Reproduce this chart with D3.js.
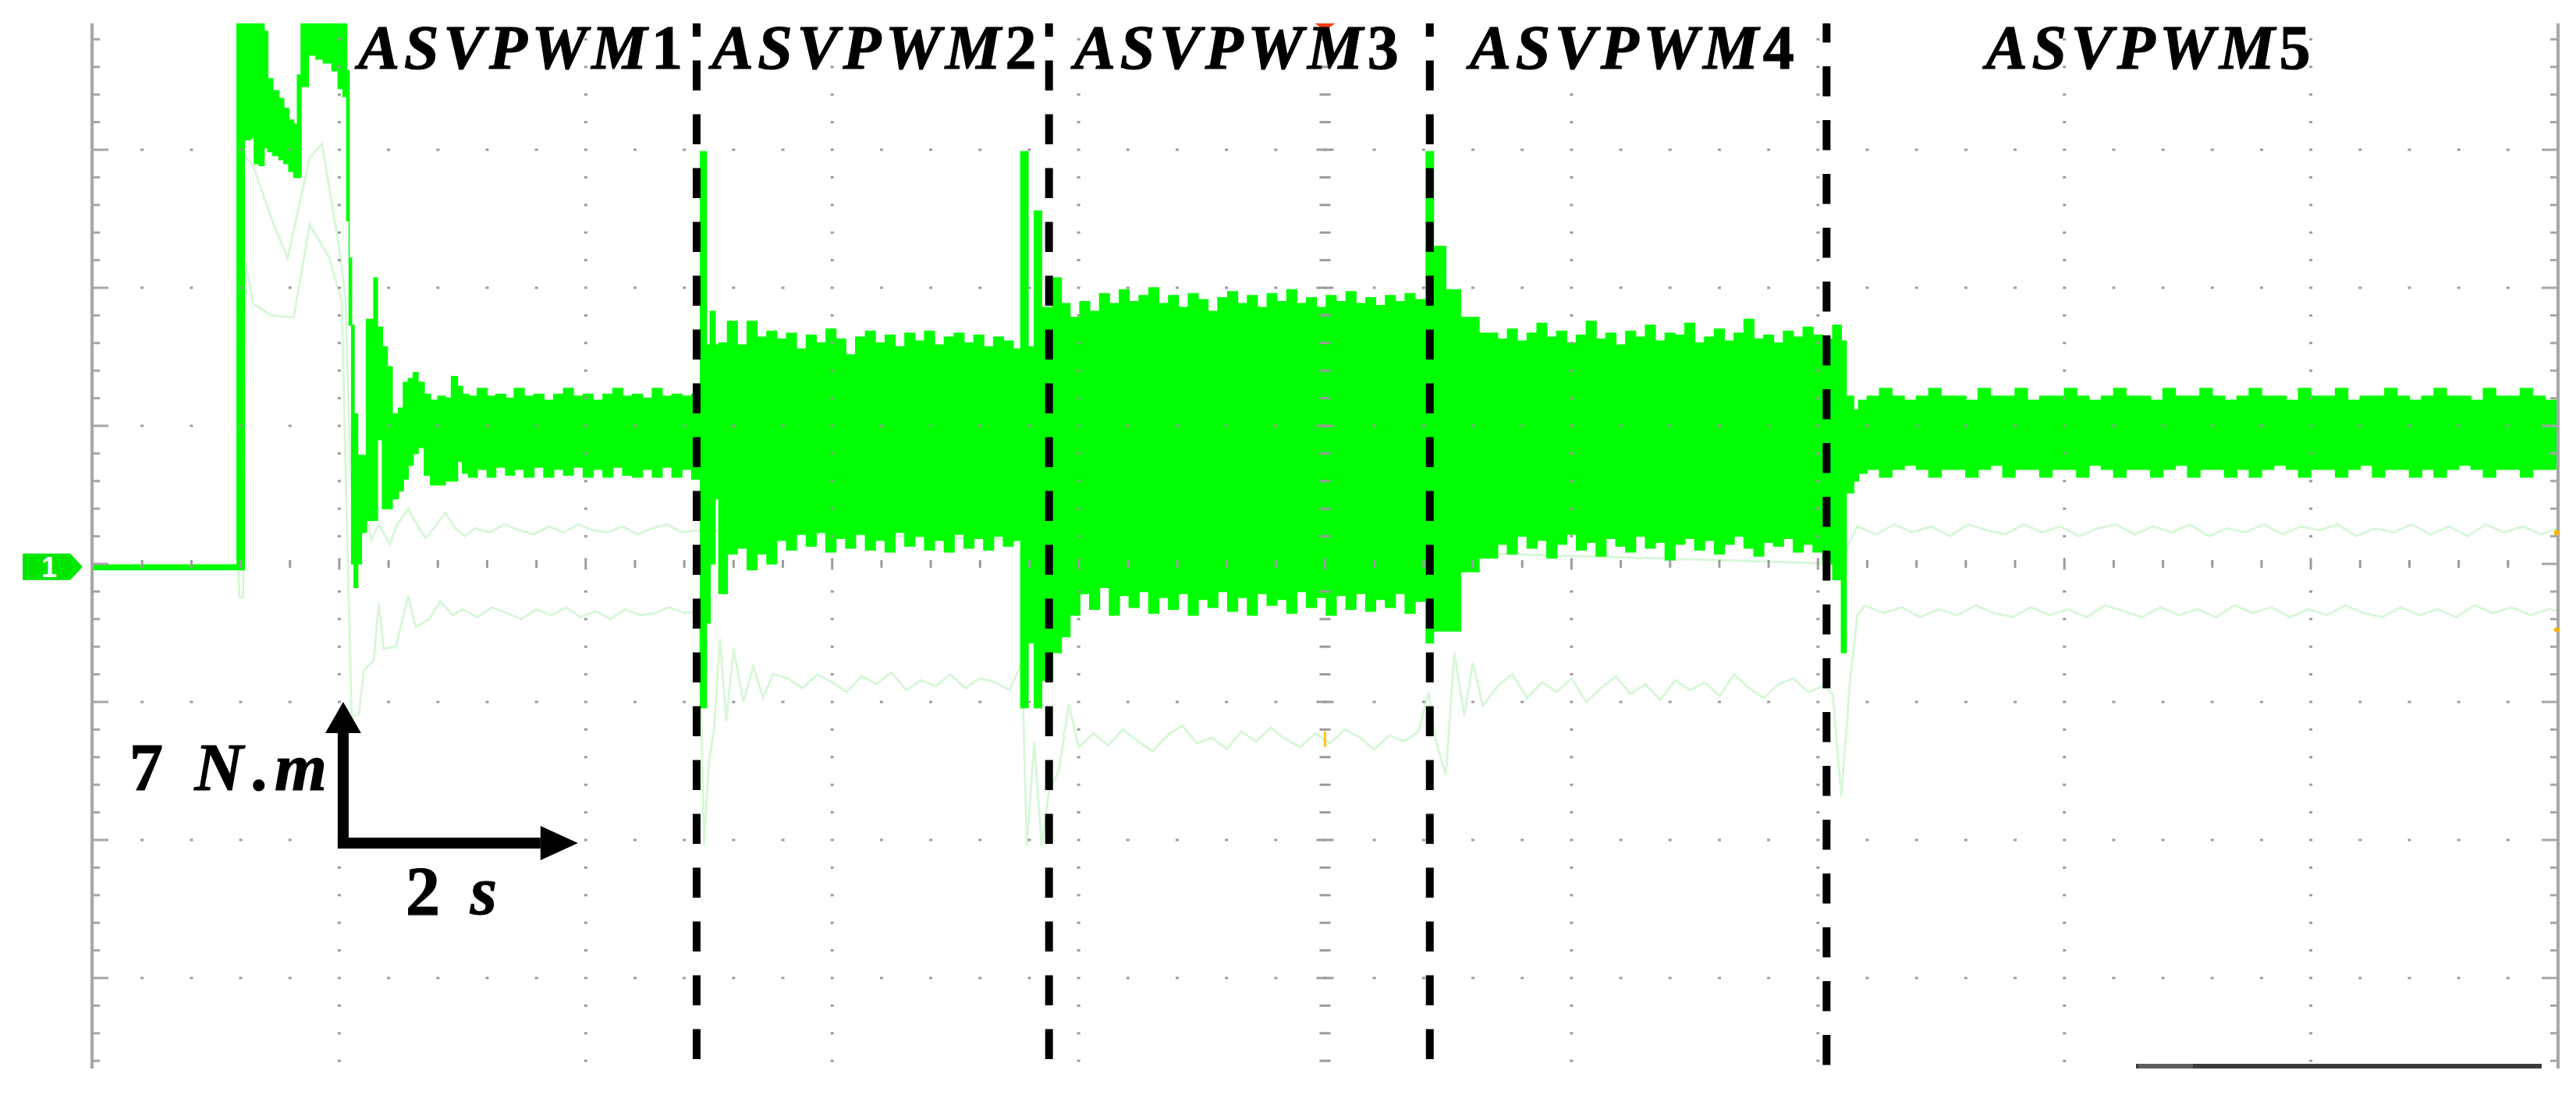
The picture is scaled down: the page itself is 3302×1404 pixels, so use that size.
<!DOCTYPE html>
<html lang="en">
<head>
<meta charset="UTF-8">
<title>ASVPWM torque response</title>
<style>
    html, body { margin: 0; padding: 0; background: #fff; }
    svg { display: block; }
    .label {
        font-family: "Liberation Serif", "DejaVu Serif", serif;
        font-weight: bold;
        font-style: italic;
        fill: #000;
        stroke: #000;
        stroke-width: 1.2px;
    }
    .label .up { font-style: normal; }
</style>
</head>
<body>
<svg id="chart" width="3302" height="1404"></svg>
<script src="https://d3js.org/d3.v7.min.js"></script>
<script>
// scope settings: 2 s/div horizontally, 7 N.m/div vertically
const timeDomain = [0, 20];
const torqueDomain = [-28, 28];

// mode labels and the switching instants (s)
const modes = ["ASVPWM1", "ASVPWM2", "ASVPWM3", "ASVPWM4", "ASVPWM5"];
const modeLabelTimes = [3.47, 6.34, 9.28, 12.49, 16.68];
const switchTimes = [4.90, 7.76, 10.85, 14.07];

// torque trace envelope [time s, upper N.m, lower N.m]
const startup = [
    [0.00, -0.05, -0.30], [1.17, 28, -0.30], [1.23, 28, 21.5], [1.28, 28, 21.6],
    [1.31, 28, 20.3], [1.35, 28, 20.2], [1.39, 27.0, 21.1], [1.42, 24.6, 20.9],
    [1.46, 24.0, 20.7], [1.51, 23.6, 20.5], [1.55, 23.1, 20.3], [1.59, 22.5, 19.9],
    [1.63, 22.3, 19.6], [1.66, 24.8, 19.6], [1.69, 28, 24.2], [1.75, 28, 25.8],
    [1.81, 27.6, 25.6], [1.87, 28, 25.4], [1.94, 28, 25.0], [1.99, 28, 24.1],
    [2.03, 28, 23.7], [2.06, 25.0, 17.4], [2.08, 15.5, 12.1], [2.10, 12.1, 0.0],
    [2.12, 7.6, -1.2], [2.15, 5.5, 0.0], [2.18, 5.5, 1.6], [2.22, 12.4, 2.2],
    [2.28, 14.5, 2.2], [2.31, 12.0, 6.3], [2.35, 11.0, 2.8], [2.39, 10.0, 2.8],
    [2.43, 7.6, 3.3], [2.48, 7.9, 3.7], [2.52, 9.2, 4.3], [2.56, 9.4, 5.0],
    [2.60, 9.7, 5.6], [2.64, 9.2, 5.9], [2.69, 8.6, 4.5], [2.74, 8.3, 4.0],
    [2.80, 8.5, 4.0], [2.86, 8.4, 4.2], [2.91, 9.5, 4.2], [2.96, 9.0, 5.2],
    [3.00, 8.6, 4.6]
];
const asvpwm1 = [
    [3.05, 8.5, 4.4], [3.12, 8.9, 4.8], [3.20, 8.5, 4.4], [3.27, 8.6, 4.9],
    [3.35, 8.4, 4.5], [3.42, 8.9, 4.8], [3.50, 8.5, 4.4], [3.58, 8.6, 4.9],
    [3.66, 8.3, 4.4], [3.74, 8.6, 4.8], [3.82, 8.9, 4.5], [3.90, 8.5, 4.9],
    [3.98, 8.6, 4.4], [4.06, 8.3, 4.8], [4.14, 8.6, 4.4], [4.22, 8.9, 4.9],
    [4.30, 8.5, 4.5], [4.38, 8.6, 4.4], [4.46, 8.4, 4.8], [4.54, 8.9, 4.4],
    [4.62, 8.5, 4.9], [4.70, 8.6, 4.4], [4.78, 8.5, 4.8], [4.86, 8.6, 4.3]
];
const asvpwm2 = [
    [4.93, 20.9, -7.3], [4.98, 11.1, -3.0], [5.01, 12.8, 0.0], [5.05, 11.1, 3.3],
    [5.08, 11.2, -1.5], [5.15, 12.3, 0.5], [5.23, 11.1, 0.8], [5.31, 12.3, -0.3],
    [5.39, 11.5, 0.5], [5.47, 11.8, 0.0], [5.55, 11.4, 1.2], [5.63, 11.7, 0.7],
    [5.71, 10.9, 1.5], [5.79, 11.6, 0.9], [5.87, 11.2, 1.6], [5.95, 11.9, 0.6],
    [6.03, 11.4, 1.3], [6.11, 10.6, 0.8], [6.19, 11.5, 1.5], [6.27, 11.8, 0.7],
    [6.35, 11.2, 1.2], [6.43, 11.6, 0.6], [6.51, 11.0, 1.6], [6.59, 11.7, 0.9],
    [6.67, 11.3, 1.4], [6.75, 11.8, 0.7], [6.83, 11.1, 1.2], [6.91, 11.5, 0.6],
    [6.99, 11.7, 1.5], [7.07, 11.2, 0.8], [7.15, 11.6, 1.3], [7.23, 11.0, 0.7],
    [7.31, 11.5, 1.4], [7.39, 11.3, 0.9], [7.47, 10.9, 1.2]
];
const asvpwm3 = [
    [7.53, 20.9, -7.3], [7.59, 11.0, -4.0], [7.64, 17.9, -7.3], [7.70, 13.0, -5.9],
    [7.79, 14.5, -4.5], [7.86, 13.2, -3.7], [7.93, 12.5, -2.6], [8.01, 13.3, -1.5],
    [8.09, 12.8, -2.3], [8.17, 13.7, -1.2], [8.25, 13.2, -2.6], [8.33, 13.9, -1.6],
    [8.41, 13.3, -2.2], [8.49, 13.6, -1.4], [8.57, 14.0, -2.5], [8.65, 13.2, -1.7],
    [8.73, 13.6, -2.3], [8.81, 13.0, -1.5], [8.89, 13.7, -2.6], [8.97, 13.4, -1.8],
    [9.05, 12.8, -2.2], [9.13, 13.5, -1.4], [9.21, 13.8, -2.4], [9.29, 13.2, -1.7],
    [9.37, 13.6, -2.6], [9.45, 13.0, -1.5], [9.53, 13.7, -2.1], [9.61, 13.3, -1.8],
    [9.69, 13.9, -2.5], [9.77, 13.2, -1.4], [9.85, 13.5, -2.2], [9.93, 13.0, -1.7],
    [10.01, 13.6, -2.6], [10.09, 13.3, -1.6], [10.17, 13.8, -2.3], [10.25, 13.2, -1.5],
    [10.33, 13.5, -2.4], [10.41, 13.1, -1.8], [10.49, 13.6, -2.2], [10.57, 13.3, -1.5],
    [10.65, 13.7, -2.5], [10.73, 13.4, -1.9]
];
const asvpwm4 = [
    [10.82, 20.9, -4.0], [10.88, 16.1, -3.4], [10.98, 13.9, -3.4], [11.10, 12.5, -0.4],
    [11.25, 11.7, 0.3], [11.40, 11.4, 1.0], [11.48, 11.9, 0.5], [11.56, 11.3, 1.4],
    [11.64, 11.7, 0.8], [11.72, 12.2, 1.2], [11.80, 11.5, 0.3], [11.88, 11.8, 1.0],
    [11.96, 11.2, 1.5], [12.04, 11.6, 0.7], [12.12, 12.3, 1.1], [12.20, 11.4, 0.4],
    [12.28, 11.7, 1.3], [12.36, 11.1, 0.9], [12.44, 11.8, 0.6], [12.52, 11.5, 1.4],
    [12.60, 12.1, 0.8], [12.68, 11.3, 1.1], [12.76, 11.7, 0.2], [12.84, 11.6, 1.0],
    [12.92, 12.2, 1.3], [13.00, 11.2, 0.7], [13.08, 11.5, 1.2], [13.16, 11.9, 0.5],
    [13.24, 11.3, 1.0], [13.32, 11.7, 1.4], [13.40, 12.4, 0.8], [13.48, 11.4, 0.4],
    [13.56, 11.6, 1.1], [13.64, 11.2, 0.9], [13.72, 11.8, 1.3], [13.80, 11.5, 0.6],
    [13.88, 12.0, 1.0], [13.96, 11.6, 0.6], [14.04, 11.4, 0.0], [14.12, 12.1, -0.8],
    [14.19, 11.3, -4.5]
];
const asvpwm5 = [
    [14.23, 8.5, 3.6], [14.29, 7.8, 4.2], [14.33, 8.3, 4.6], [14.40, 8.5, 4.8],
    [14.50, 8.9, 4.4], [14.60, 8.5, 4.8], [14.70, 8.3, 5.0], [14.80, 8.5, 4.8],
    [14.90, 8.9, 4.4], [15.00, 8.5, 4.8], [15.10, 8.5, 4.8], [15.20, 8.3, 4.4],
    [15.30, 8.9, 4.8], [15.40, 8.5, 5.0], [15.50, 8.5, 4.4], [15.60, 8.9, 4.8],
    [15.70, 8.3, 4.8], [15.80, 8.5, 4.4], [15.90, 8.5, 4.8], [16.00, 8.9, 4.8],
    [16.10, 8.5, 4.4], [16.20, 8.3, 5.0], [16.30, 8.5, 4.8], [16.40, 8.9, 4.4],
    [16.50, 8.5, 4.8], [16.60, 8.5, 4.8], [16.70, 8.3, 4.4], [16.80, 8.9, 4.8],
    [16.90, 8.5, 5.0], [17.00, 8.5, 4.4], [17.10, 8.9, 4.8], [17.20, 8.5, 4.8],
    [17.30, 8.3, 4.4], [17.40, 8.5, 4.8], [17.50, 8.9, 4.4], [17.60, 8.5, 4.8],
    [17.70, 8.5, 5.0], [17.80, 8.3, 4.8], [17.90, 8.9, 4.4], [18.00, 8.5, 4.8],
    [18.10, 8.5, 4.8], [18.20, 8.9, 4.4], [18.30, 8.3, 4.8], [18.40, 8.5, 5.0],
    [18.50, 8.5, 4.4], [18.60, 8.9, 4.8], [18.70, 8.5, 4.8], [18.80, 8.3, 4.4],
    [18.90, 8.5, 4.8], [19.00, 8.9, 4.4], [19.10, 8.5, 4.8], [19.20, 8.5, 5.0],
    [19.30, 8.3, 4.8], [19.40, 8.9, 4.4], [19.50, 8.5, 4.8], [19.60, 8.5, 4.8],
    [19.70, 8.9, 4.4], [19.80, 8.5, 4.8], [19.90, 8.3, 4.8], [20.00, 8.5, 4.8]
];

// faint persistence traces [time s, torque N.m]
const ghostUpper = [
    [0.00, -0.15], [1.18, -0.15], [1.19, 21.0], [1.30, 20.2], [1.45, 17.5], [1.58, 15.5],
    [1.76, 20.6], [1.86, 21.3], [2.00, 16.0], [2.05, 13.5], [2.09, 5.0], [2.13, 1.0],
    [2.20, 3.0], [2.26, 1.2], [2.32, 2.0], [2.41, 1.0], [2.47, 2.0], [2.56, 2.8],
    [2.62, 2.1], [2.70, 1.3], [2.78, 1.9], [2.86, 2.6], [2.94, 1.8], [3.02, 1.4],
    [3.10, 1.8], [3.22, 1.6], [3.34, 2.0], [3.46, 1.7], [3.58, 1.5], [3.70, 1.9],
    [3.82, 1.6], [3.94, 2.0], [4.06, 1.7], [4.18, 1.6], [4.30, 1.9], [4.42, 1.5],
    [4.54, 1.8], [4.66, 2.0], [4.78, 1.6], [4.90, 1.7], [14.20, 0.0], [14.25, 1.0],
    [14.32, 1.9], [14.47, 1.5], [14.62, 2.0], [14.77, 1.6], [14.92, 1.9], [15.07, 1.4],
    [15.22, 2.0], [15.37, 1.7], [15.52, 1.5], [15.67, 2.0], [15.82, 1.6], [15.97, 1.9],
    [16.12, 1.4], [16.27, 1.8], [16.42, 2.0], [16.57, 1.5], [16.72, 1.9], [16.87, 1.6],
    [17.02, 2.0], [17.17, 1.4], [17.32, 1.8], [17.47, 1.6], [17.62, 2.0], [17.77, 1.5],
    [17.92, 1.9], [18.07, 1.7], [18.22, 2.0], [18.37, 1.4], [18.52, 1.8], [18.67, 1.6],
    [18.82, 2.0], [18.97, 1.5], [19.12, 1.9], [19.27, 1.4], [19.42, 2.0], [19.57, 1.6],
    [19.72, 1.9], [19.87, 1.5], [20.00, 1.8]
];
const ghostLower = [
    [0.00, -0.15], [1.18, -0.15], [1.19, -1.7], [1.22, -1.7], [1.24, 15.3], [1.30, 13.2],
    [1.45, 12.6], [1.63, 12.5], [1.76, 17.2], [1.92, 15.5], [2.02, 13.3], [2.07, 0.0],
    [2.10, -7.8], [2.16, -7.6], [2.20, -5.4], [2.28, -4.9], [2.32, -2.0], [2.36, -4.3],
    [2.46, -4.2], [2.56, -1.6], [2.62, -3.2], [2.73, -2.8], [2.82, -1.9], [2.92, -2.6],
    [3.00, -2.3], [3.12, -2.7], [3.24, -2.2], [3.36, -2.5], [3.48, -2.8], [3.60, -2.3],
    [3.72, -2.6], [3.84, -2.2], [3.96, -2.7], [4.08, -2.4], [4.20, -2.8], [4.32, -2.3],
    [4.44, -2.6], [4.56, -2.5], [4.68, -2.2], [4.80, -2.5], [4.92, -2.4], [4.96, -14.3],
    [5.00, -10.0], [5.04, -8.5], [5.09, -3.8], [5.14, -8.0], [5.20, -4.3], [5.28, -7.0],
    [5.36, -5.2], [5.44, -6.8], [5.52, -5.6], [5.64, -5.8], [5.76, -6.3], [5.88, -5.6],
    [6.00, -6.0], [6.12, -6.5], [6.24, -5.7], [6.36, -6.1], [6.48, -5.5], [6.60, -6.4],
    [6.72, -5.9], [6.84, -6.2], [6.96, -5.6], [7.08, -6.3], [7.20, -5.8], [7.32, -6.0],
    [7.44, -6.4], [7.54, -5.0], [7.58, -14.3], [7.64, -9.0], [7.70, -14.3], [7.76, -11.5],
    [7.84, -10.5], [7.92, -7.1], [8.00, -9.3], [8.12, -8.6], [8.24, -9.2], [8.36, -8.4],
    [8.48, -9.0], [8.60, -9.5], [8.72, -8.7], [8.84, -8.2], [8.96, -9.1], [9.08, -8.8],
    [9.20, -9.4], [9.32, -8.5], [9.44, -9.0], [9.56, -8.3], [9.68, -8.9], [9.80, -9.3],
    [9.92, -8.6], [10.04, -9.1], [10.16, -8.4], [10.28, -8.8], [10.40, -9.4], [10.52, -8.7],
    [10.64, -9.0], [10.76, -8.5], [10.84, -6.5], [10.90, -9.0], [10.98, -10.7], [11.05, -4.5],
    [11.13, -7.7], [11.20, -5.0], [11.28, -7.2], [11.40, -6.2], [11.52, -5.6], [11.64, -6.8],
    [11.76, -6.0], [11.88, -6.5], [12.00, -5.8], [12.12, -7.0], [12.24, -6.3], [12.36, -5.7],
    [12.48, -6.6], [12.60, -6.1], [12.72, -6.9], [12.84, -5.9], [12.96, -6.4], [13.08, -6.0],
    [13.20, -6.7], [13.32, -5.6], [13.44, -6.3], [13.56, -6.8], [13.68, -6.1], [13.80, -5.8],
    [13.92, -6.5], [14.04, -6.2], [14.12, -6.6], [14.19, -11.8], [14.26, -6.0], [14.32, -2.6],
    [14.38, -2.1], [14.53, -2.5], [14.68, -2.2], [14.83, -2.7], [14.98, -2.3], [15.13, -2.6],
    [15.28, -2.1], [15.43, -2.5], [15.58, -2.7], [15.73, -2.2], [15.88, -2.6], [16.03, -2.3],
    [16.18, -2.7], [16.33, -2.1], [16.48, -2.4], [16.63, -2.7], [16.78, -2.2], [16.93, -2.6],
    [17.08, -2.3], [17.23, -2.7], [17.38, -2.1], [17.53, -2.5], [17.68, -2.2], [17.83, -2.7],
    [17.98, -2.3], [18.13, -2.6], [18.28, -2.1], [18.43, -2.5], [18.58, -2.7], [18.73, -2.2],
    [18.88, -2.6], [19.03, -2.3], [19.18, -2.7], [19.33, -2.1], [19.48, -2.5], [19.63, -2.2],
    [19.78, -2.6], [19.93, -2.3], [20.00, -2.4]
];

const envelope = [].concat(startup, asvpwm1, asvpwm2, asvpwm3, asvpwm4, asvpwm5);

// ---- layout ----
const svg = d3.select("#chart");
const plot = { left: 119, right: 3278, top: 30, bottom: 1370 };

const x = d3.scaleLinear().domain(timeDomain).range([plot.left, plot.right]);
const y = d3.scaleLinear().domain(torqueDomain).range([1431, 15]);

svg.append("rect").attr("width", 3302).attr("height", 1404).attr("fill", "#fff");

svg.append("defs").append("clipPath").attr("id", "clip")
    .append("rect")
    .attr("x", plot.left).attr("y", plot.top)
    .attr("width", plot.right - plot.left).attr("height", plot.bottom - plot.top);

const traces = svg.append("g").attr("clip-path", "url(#clip)");

// faint traces sit behind the main trace
const ghostLine = d3.line().x(d => x(d[0])).y(d => y(d[1]));
[ghostUpper, ghostLower].forEach(g => {
    traces.append("path")
        .attr("d", ghostLine(g))
        .attr("fill", "none")
        .attr("stroke", "#d8f7d8")
        .attr("stroke-width", 3);
});

const band = d3.area()
    .x(d => x(d[0]))
    .y0(d => y(d[2]))
    .y1(d => y(d[1]))
    .curve(d3.curveStepAfter);

traces.append("path")
    .attr("d", band(envelope))
    .attr("fill", "#00ff00")
    .attr("stroke", "#00ff00")
    .attr("stroke-width", 1.5);

// ---- scope graticule ----
const grid = svg.append("g").attr("fill", "#9c9c9c");
const minorT = d3.range(0, 50.5, 1).map(i => +(i * 0.4).toFixed(2));
const minorV = d3.range(0, 40.5, 1).map(j => +(-28 + j * 1.4).toFixed(2));
const isMajorT = t => Math.abs(t / 2 - Math.round(t / 2)) < 1e-6;
const isMajorV = v => Math.abs(v / 7 - Math.round(v / 7)) < 1e-6;
const inY = v => y(v) > plot.top + 2 && y(v) < plot.bottom - 2;

// dotted rows on every division line
minorV.filter(v => isMajorV(v) && inY(v)).forEach(v => {
    minorT.filter(t => t > 0 && t < 20).forEach(t => {
        if (v === 0) {
            const h = isMajorT(t) ? 15 : 10;
            grid.append("rect").attr("x", x(t) - 1.5).attr("y", y(v) - h / 2).attr("width", 3).attr("height", h);
        } else {
            grid.append("rect").attr("x", x(t) - 2).attr("y", y(v) - 1.5).attr("width", 4).attr("height", 3);
        }
    });
});
// dotted columns on every division line
minorT.filter(t => isMajorT(t) && t > 0 && t < 20).forEach(t => {
    minorV.filter(v => inY(v) && !isMajorV(v)).forEach(v => {
        if (t === 10) {
            grid.append("rect").attr("x", x(t) - 7).attr("y", y(v) - 1.5).attr("width", 14).attr("height", 3);
        } else {
            grid.append("rect").attr("x", x(t) - 2).attr("y", y(v) - 1.5).attr("width", 4).attr("height", 3);
        }
    });
});
// centre column also marks the division rows
minorV.filter(v => isMajorV(v) && inY(v) && v !== 0).forEach(v => {
    grid.append("rect").attr("x", x(10) - 11).attr("y", y(v) - 1.5).attr("width", 22).attr("height", 3);
});

// side rulers with ticks
const frame = svg.append("g").attr("fill", "#a6a6a6");
frame.append("rect").attr("x", plot.left - 3).attr("y", plot.top).attr("width", 4).attr("height", plot.bottom - plot.top);
frame.append("rect").attr("x", plot.right - 1).attr("y", plot.top).attr("width", 4).attr("height", plot.bottom - plot.top);
minorV.filter(inY).forEach(v => {
    const len = isMajorV(v) ? 20 : 9;
    frame.append("rect").attr("x", plot.left).attr("y", y(v) - 1.5).attr("width", len).attr("height", 3);
    frame.append("rect").attr("x", plot.right - len).attr("y", y(v) - 1.5).attr("width", len).attr("height", 3);
});

// bottom scroll bar
svg.append("rect").attr("x", 2738).attr("y", 1364).attr("width", 520).attr("height", 6).attr("fill", "#3c3c3c");
svg.append("rect").attr("x", 2741).attr("y", 1364).attr("width", 70).attr("height", 6).attr("fill", "#5e5e5e");

// trigger markers
svg.append("path")
    .attr("d", `M${x(10) - 13},${plot.top} L${x(10) + 13},${plot.top} L${x(10)},${plot.top + 9} Z`)
    .attr("fill", "#ff3a10");
svg.append("rect").attr("x", x(10) - 1.5).attr("y", 938).attr("width", 3).attr("height", 20).attr("fill", "#ffc21a");
svg.append("rect").attr("x", plot.right - 4).attr("y", 680).attr("width", 6).attr("height", 6).attr("fill", "#ffb000");
svg.append("rect").attr("x", plot.right - 4).attr("y", 805).attr("width", 6).attr("height", 5).attr("fill", "#ffb000");

// channel 1 ground marker
const g0 = y(-0.15);
svg.append("path")
    .attr("d", `M29,${g0 - 17} H90 L106,${g0} L90,${g0 + 17} H29 Z`)
    .attr("fill", "#00e600");
svg.append("text")
    .attr("x", 63).attr("y", g0 + 13)
    .attr("text-anchor", "middle")
    .attr("font-family", "Liberation Sans, Arial, sans-serif")
    .attr("font-weight", "bold")
    .attr("font-size", 36)
    .attr("fill", "#fff")
    .text("1");

// ---- mode separators ----
const dashOffsets = [21.5, 21.5, 21.5, 14];
switchTimes.forEach((t, i) => {
    svg.append("line")
        .attr("x1", x(t)).attr("x2", x(t))
        .attr("y1", plot.top).attr("y2", plot.bottom)
        .attr("stroke", "#000")
        .attr("stroke-width", 10)
        .attr("stroke-dasharray", "38.5,30.5")
        .attr("stroke-dashoffset", dashOffsets[i]);
});

// ---- mode labels ----
modes.forEach((m, i) => {
    const t = svg.append("text")
        .attr("class", "label")
        .attr("x", x(modeLabelTimes[i]))
        .attr("y", 88)
        .attr("text-anchor", "middle")
        .attr("font-size", 80)
        .attr("textLength", 416)
        .attr("lengthAdjust", "spacing");
    t.append("tspan").text(m.slice(0, -1));
    t.append("tspan").attr("class", "up").text(m.slice(-1));
});

// ---- scale indicator: one division = 7 N.m, 2 s ----
const ox = x(2), oy = y(-14);
const tipY = y(-7), tipX = x(4) - 10;
const ind = svg.append("g").attr("fill", "#000");
ind.append("rect")
    .attr("x", ox - 2).attr("y", tipY + 40)
    .attr("width", 14).attr("height", oy + 11 - (tipY + 40));
ind.append("path")
    .attr("d", `M${ox + 5 - 23},${tipY + 40} L${ox + 5 + 23},${tipY + 40} L${ox + 5},${tipY} Z`);
ind.append("rect")
    .attr("x", ox - 2).attr("y", oy - 3)
    .attr("width", tipX - 48 - (ox - 2)).attr("height", 14);
ind.append("path")
    .attr("d", `M${tipX - 48},${oy + 4 - 22} L${tipX - 48},${oy + 4 + 22} L${tipX},${oy + 4} Z`);

const unitY = svg.append("text")
    .attr("class", "label")
    .attr("x", 166).attr("y", 1013)
    .attr("font-size", 86)
    .attr("textLength", 253)
    .attr("lengthAdjust", "spacing");
unitY.append("tspan").attr("class", "up").text("7 ");
unitY.append("tspan").text("N");
unitY.append("tspan").attr("class", "up").text(".");
unitY.append("tspan").text("m");

const unitX = svg.append("text")
    .attr("class", "label")
    .attr("x", 520).attr("y", 1172)
    .attr("font-size", 88)
    .attr("textLength", 117)
    .attr("lengthAdjust", "spacing");
unitX.append("tspan").attr("class", "up").text("2 ");
unitX.append("tspan").text("s");
</script>
</body>
</html>
